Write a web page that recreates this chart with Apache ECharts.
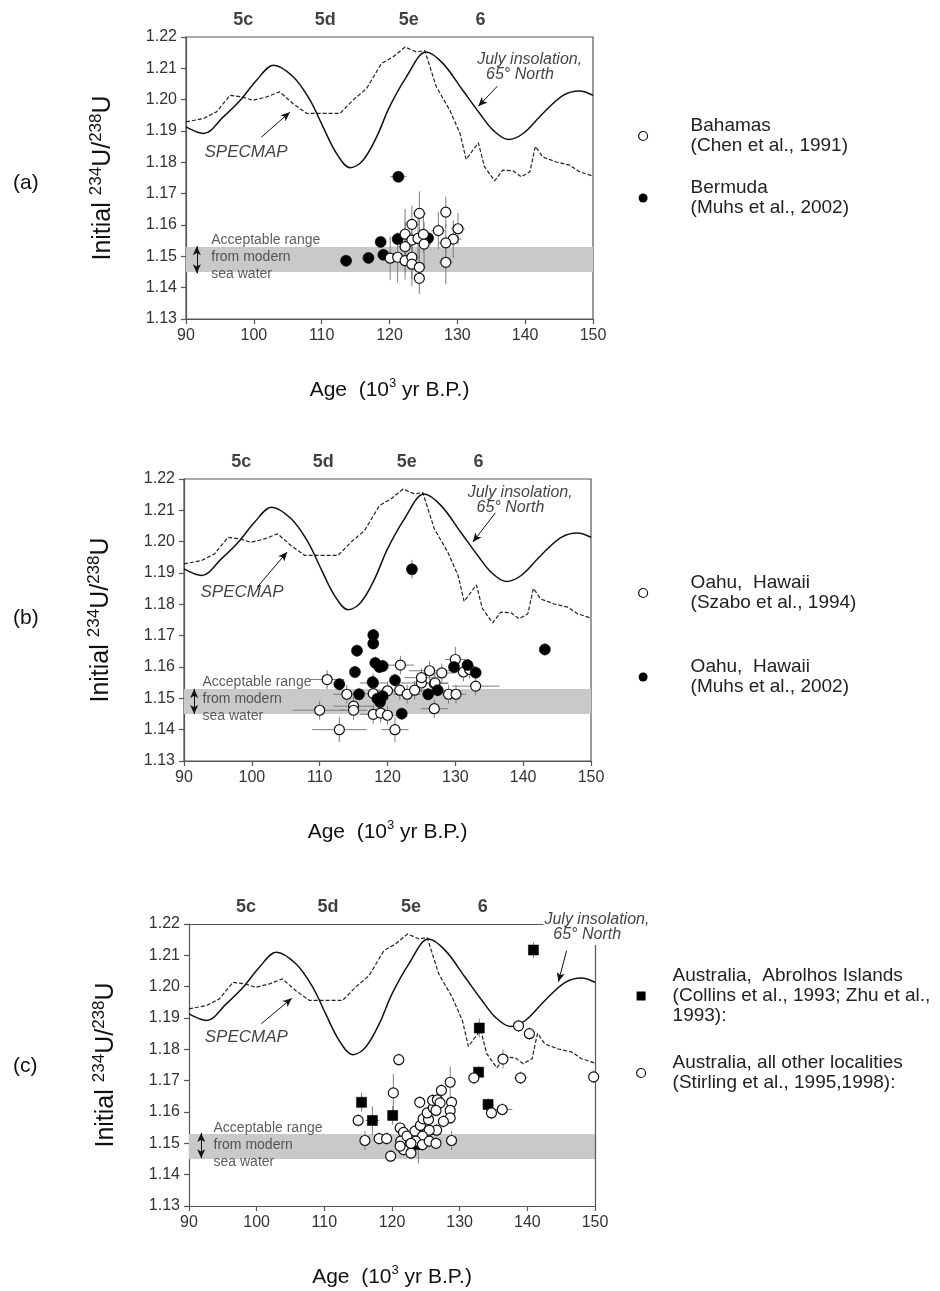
<!DOCTYPE html>
<html>
<head>
<meta charset="utf-8">
<title>Initial 234U/238U vs age</title>
<script src="https://cdn.jsdelivr.net/npm/echarts@6/dist/echarts.min.js"></script>
<style>
  html, body { margin: 0; padding: 0; background: #fff; }
  #chart { width: 940px; height: 1291px; }
</style>
</head>
<body>
<div id="chart"></div>
<script>
// axes
const xTicks = [90, 100, 110, 120, 130, 140, 150]
const yTicks = [1.13, 1.14, 1.15, 1.16, 1.17, 1.18, 1.19, 1.20, 1.21, 1.22]
const bandRange = [1.145, 1.153] // acceptable range from modern sea water

// marine isotope stages shown above each panel
const stageNames = ['5c', '5d', '5e', '6']
const stageAges = [98.5, 110.6, 122.9, 133.5]
const stageLevel = 1.2252

// July insolation, 65 N (solid) and SPECMAP (dashed), rescaled to the ratio axis
const insolationAge = [90, 92.6, 95.5, 98, 100.4, 102.9, 105.8, 108.3, 110.2, 112.2, 114.2, 116.1, 118.1, 120, 122.5, 125.4, 127.9, 130.8, 133.3, 135.3, 137.5, 139.7, 142.6, 145.6, 148, 150]
const insolationVal = [1.1913, 1.1892, 1.1945, 1.1998, 1.2062, 1.2110, 1.2073, 1.1998, 1.1913, 1.1828, 1.1783, 1.1807, 1.1881, 1.1977, 1.2073, 1.2152, 1.2115, 1.2030, 1.1956, 1.1902, 1.1873, 1.1892, 1.1956, 1.2014, 1.2028, 1.2014]
const specmapAge = [90, 92.6, 94.5, 96.5, 98.2, 99.9, 101.9, 103.8, 105.8, 107.8, 110.2, 112.7, 114.6, 116.6, 118.8, 120.5, 122.3, 124.0, 125.2, 126.9, 128.9, 130.4, 131.3, 132.1, 133.1, 134.0, 135.5, 136.7, 138.2, 139.4, 140.7, 141.5, 142.6, 144.6, 146.6, 148, 150]
const specmapVal = [1.1929, 1.1940, 1.1961, 1.2014, 1.2009, 1.1998, 1.2009, 1.2025, 1.1987, 1.1956, 1.1956, 1.1956, 1.1998, 1.2035, 1.2115, 1.2136, 1.2168, 1.2152, 1.2157, 1.2041, 1.1966, 1.1892, 1.1809, 1.1833, 1.1862, 1.1786, 1.1741, 1.1775, 1.1773, 1.1754, 1.1770, 1.1851, 1.1817, 1.1801, 1.1791, 1.1770, 1.1756]

// samples: [age ka, initial 234U/238U, age error, ratio error]
const bahamas = [
  [124.4, 1.1637, 1.0, 0.007], [128.3, 1.1641, 0.8, 0.005], [123.3, 1.1602, 1.0, 0.006],
  [122.3, 1.1571, 1.2, 0.008], [123.3, 1.1552, 1.0, 0.006], [124.2, 1.1557, 1.0, 0.007],
  [125.0, 1.1570, 1.2, 0.006], [125.1, 1.1539, 1.0, 0.007], [127.2, 1.1582, 1.0, 0.006],
  [130.1, 1.1588, 1.0, 0.005], [129.4, 1.1555, 1.2, 0.006], [128.3, 1.1543, 1.0, 0.006],
  [122.3, 1.1531, 1.0, 0.008], [120.1, 1.1494, 1.0, 0.007], [121.2, 1.1497, 1.2, 0.008],
  [122.3, 1.1486, 1.0, 0.006], [123.3, 1.1497, 1.0, 0.007], [123.3, 1.1475, 1.0, 0.007],
  [124.4, 1.1465, 1.0, 0.006], [124.4, 1.1430, 0.8, 0.005], [128.3, 1.1481, 1.0, 0.007]
]
const bermuda = [
  [113.6, 1.1486, 0.5, 0.0015], [116.9, 1.1495, 0.5, 0.0012], [118.7, 1.1546, 0.5, 0.0015],
  [119.1, 1.1505, 0.6, 0.0015], [121.2, 1.1555, 0.6, 0.0015], [125.7, 1.1558, 0.6, 0.0015],
  [121.3, 1.1754, 1.2, 0.0015]
]
const oahuSzabo = [
  [111.1, 1.1560, 2.5, 0.003], [110.0, 1.1462, 4.0, 0.003], [112.9, 1.1400, 4.0, 0.004],
  [114.0, 1.1513, 2.0, 0.003], [115.0, 1.1475, 3.0, 0.003], [115.0, 1.1462, 2.0, 0.003],
  [117.9, 1.1549, 2.0, 0.003], [117.9, 1.1515, 2.5, 0.003], [117.9, 1.1449, 2.0, 0.003],
  [119.0, 1.1453, 1.5, 0.003], [120.0, 1.1446, 1.5, 0.003], [120.0, 1.1524, 2.0, 0.003],
  [121.1, 1.1400, 2.0, 0.004], [121.9, 1.1606, 2.0, 0.003], [121.8, 1.1526, 2.0, 0.003],
  [122.9, 1.1513, 2.0, 0.003], [124.0, 1.1526, 3.0, 0.003], [125.0, 1.1549, 3.0, 0.003],
  [125.0, 1.1566, 2.5, 0.003], [126.2, 1.1588, 3.0, 0.003], [126.9, 1.1547, 2.0, 0.003],
  [126.9, 1.1467, 2.0, 0.003], [130.0, 1.1624, 1.5, 0.004], [128.0, 1.1581, 2.0, 0.003],
  [131.2, 1.1584, 1.5, 0.003], [132.1, 1.1592, 1.5, 0.003], [127.0, 1.1549, 2.0, 0.003],
  [129.0, 1.1513, 2.0, 0.003], [130.1, 1.1513, 1.5, 0.003], [133.0, 1.1539, 3.5, 0.003]
]
const oahuMuhs = [
  [117.9, 1.1702, 0.6, 0.002], [117.9, 1.1675, 0.6, 0.002], [115.5, 1.1652, 0.6, 0.002],
  [115.2, 1.1584, 0.6, 0.002], [118.2, 1.1613, 0.6, 0.002], [118.8, 1.1600, 0.6, 0.002],
  [119.3, 1.1603, 0.6, 0.002], [112.9, 1.1545, 0.6, 0.002], [115.8, 1.1513, 0.6, 0.002],
  [117.8, 1.1552, 0.6, 0.002], [118.5, 1.1499, 0.6, 0.002], [118.9, 1.1488, 0.6, 0.002],
  [119.3, 1.1507, 0.6, 0.002], [121.1, 1.1558, 0.6, 0.002], [122.1, 1.1451, 0.6, 0.002],
  [126.0, 1.1513, 0.6, 0.002], [127.4, 1.1526, 0.6, 0.002], [129.8, 1.1600, 0.6, 0.002],
  [131.8, 1.1606, 0.6, 0.002], [133.0, 1.1582, 0.6, 0.002], [143.2, 1.1656, 0.6, 0.002],
  [123.6, 1.1912, 0.6, 0.003]
]
const abrolhos = [
  [140.9, 1.2117, 0.5, 0.0025], [132.9, 1.1868, 0.5, 0.003], [132.8, 1.1727, 0.5, 0.002],
  [134.2, 1.1624, 0.8, 0.002], [115.5, 1.1631, 0.5, 0.003], [117.1, 1.1573, 1.0, 0.0045],
  [120.1, 1.1589, 0.5, 0.003], [123.9, 1.1496, 0.5, 0.006]
]
const australiaOther = [
  [138.7, 1.1875, 0.5, 0.002], [140.3, 1.1850, 0.5, 0.002], [136.4, 1.1769, 0.5, 0.003],
  [132.1, 1.1709, 0.5, 0.002], [139.0, 1.1709, 1.0, 0.002], [149.8, 1.1712, 0.5, 0.002],
  [134.7, 1.1597, 0.5, 0.002], [136.3, 1.1608, 1.5, 0.002], [121.0, 1.1767, 0.5, 0.002],
  [120.2, 1.1661, 0.8, 0.006], [115.0, 1.1573, 0.5, 0.002], [116.0, 1.1509, 0.5, 0.003],
  [118.1, 1.1515, 0.5, 0.002], [119.2, 1.1515, 0.5, 0.002], [119.8, 1.1459, 0.5, 0.002],
  [124.1, 1.1631, 0.5, 0.002], [121.2, 1.1549, 0.5, 0.002], [121.7, 1.1535, 0.5, 0.002],
  [121.3, 1.1507, 0.5, 0.002], [121.7, 1.1480, 0.5, 0.002], [122.8, 1.1469, 0.5, 0.002],
  [122.2, 1.1523, 0.5, 0.002], [123.4, 1.1539, 0.5, 0.002], [124.2, 1.1557, 0.5, 0.002],
  [124.6, 1.1578, 0.5, 0.002], [125.4, 1.1576, 0.5, 0.002], [125.2, 1.1597, 0.5, 0.002],
  [126.1, 1.1613, 0.5, 0.002], [126.0, 1.1637, 0.5, 0.002], [126.7, 1.1639, 0.5, 0.002],
  [127.1, 1.1629, 0.5, 0.002], [126.5, 1.1605, 0.5, 0.002], [127.3, 1.1669, 0.5, 0.002],
  [128.6, 1.1695, 0.5, 0.005], [128.8, 1.1631, 0.8, 0.002], [128.6, 1.1605, 0.5, 0.002],
  [128.6, 1.1581, 0.5, 0.002], [127.6, 1.1570, 0.5, 0.002], [126.6, 1.1542, 0.5, 0.002],
  [125.5, 1.1542, 0.5, 0.002], [124.5, 1.1523, 0.5, 0.002], [123.5, 1.1507, 0.5, 0.002],
  [124.5, 1.1496, 0.5, 0.002], [125.5, 1.1507, 0.5, 0.002], [126.5, 1.1500, 0.5, 0.002],
  [128.8, 1.1509, 0.5, 0.003], [121.2, 1.1491, 0.5, 0.002], [122.8, 1.1500, 0.5, 0.002]
]

// annotation anchors per panel (data coordinates)
const julyLabelAt = [[133.0, 1.2102], [131.9, 1.2131], [142.6, 1.2190]]
const julyArrow = [[[135.9, 1.2043], [133.1, 1.1979]], [[135.9, 1.2092], [132.6, 1.1999]], [[145.8, 1.2115], [144.6, 1.2016]]]
const specmapLabelAt = [[92.8, 1.1829], [92.5, 1.1836], [92.4, 1.1837]]
const specmapArrow = [[[101.1, 1.1880], [105.3, 1.1960]], [[100.8, 1.1855], [105.2, 1.1967]], [[100.7, 1.1882], [105.2, 1.1963]]]
const rangeLabelAt = [[93.8, 1.1495], [92.8, 1.1497], [93.7, 1.1493]]
const rangeArrowAt = [[91.6, 1.1532, 1.1446], [91.5, 1.1530, 1.1450], [91.8, 1.1533, 1.1452]]

const names = {
  bahamas: 'Bahamas\n(Chen et al., 1991)',
  bermuda: 'Bermuda\n(Muhs et al., 2002)',
  szabo: 'Oahu,  Hawaii\n(Szabo et al., 1994)',
  muhs: 'Oahu,  Hawaii\n(Muhs et al., 2002)',
  abrolhos: 'Australia,  Abrolhos Islands\n(Collins et al., 1993; Zhu et al.,\n1993):',
  other: 'Australia, all other localities\n(Stirling et al., 1995,1998):'
}

const ink = '#111'
const axisGray = '#555'
const zip = (a, b) => a.map((v, i) => [v, b[i]])

const grids = [
  { left: 186, top: 37, width: 407, height: 282, show: true, borderColor: axisGray, borderWidth: 1.2 },
  { left: 184, top: 479, width: 407, height: 282, show: true, borderColor: axisGray, borderWidth: 1.2 },
  { left: 189, top: 924, width: 406, height: 282 }
]

const xAxes = grids.map((g, i) => ({
  gridIndex: i,
  type: 'value',
  min: xTicks[0],
  max: xTicks[xTicks.length - 1],
  interval: xTicks[1] - xTicks[0],
  name: 'Age  (10{sup|3} yr B.P.)',
  nameLocation: 'middle',
  nameGap: 58,
  nameTextStyle: {
    fontSize: 21, color: ink, lineHeight: 26,
    rich: { sup: { fontSize: 13, verticalAlign: 'top', lineHeight: 13 } }
  },
  axisLine: { onZero: false, lineStyle: { color: axisGray, width: 1.2 } },
  axisTick: { inside: false, length: 5, lineStyle: { color: axisGray, width: 1.2 } },
  axisLabel: { fontSize: 16, color: '#333', margin: 9 },
  splitLine: { show: false }
}))

const yAxes = grids.map((g, i) => ({
  gridIndex: i,
  type: 'value',
  min: yTicks[0],
  max: yTicks[yTicks.length - 1],
  interval: 0.01,
  name: 'Initial {sup|234}U/{sup|238}U',
  nameLocation: 'middle',
  nameRotate: 90,
  nameGap: 67,
  nameTextStyle: {
    fontSize: 25, color: ink, lineHeight: 31,
    rich: { sup: { fontSize: 17, verticalAlign: 'top', lineHeight: 17 } }
  },
  axisLine: { onZero: false, lineStyle: { color: axisGray, width: 1.2 } },
  axisTick: { inside: false, length: 5, lineStyle: { color: axisGray, width: 1.2 } },
  axisLabel: { fontSize: 16, color: '#333', margin: 9, formatter: v => v.toFixed(2) },
  splitLine: { show: false }
}))

function errorBars(pts, idx) {
  return {
    type: 'custom',
    xAxisIndex: idx,
    yAxisIndex: idx,
    z: 3,
    silent: true,
    data: pts,
    encode: { x: 0, y: 1 },
    renderItem(params, api) {
      const x = api.value(0)
      const y = api.value(1)
      const ex = api.value(2)
      const ey = api.value(3)
      const l = api.coord([x - ex, y])
      const r = api.coord([x + ex, y])
      const b = api.coord([x, y - ey])
      const t = api.coord([x, y + ey])
      const style = { stroke: '#7d7d7d', lineWidth: 1 }
      return {
        type: 'group',
        children: [
          { type: 'line', shape: { x1: l[0], y1: l[1], x2: r[0], y2: r[1] }, style },
          { type: 'line', shape: { x1: b[0], y1: b[1], x2: t[0], y2: t[1] }, style }
        ]
      }
    }
  }
}

function samples(name, pts, idx, opt) {
  return {
    name,
    type: 'scatter',
    xAxisIndex: idx,
    yAxisIndex: idx,
    z: opt.z,
    symbol: opt.symbol,
    symbolSize: opt.size,
    data: pts.map(p => [p[0], p[1]]),
    itemStyle: opt.filled
      ? { color: '#000', borderColor: '#000', borderWidth: 0.6, opacity: 1 }
      : { color: '#fff', borderColor: ink, borderWidth: 1.2, opacity: 1 },
    emphasis: { disabled: true }
  }
}

function curves(idx) {
  return [
    {
      type: 'line',
      xAxisIndex: idx,
      yAxisIndex: idx,
      z: 2,
      data: zip(specmapAge, specmapVal),
      showSymbol: false,
      symbol: 'none',
      lineStyle: { color: '#222', width: 1.2, type: [4, 2] },
      silent: true,
      markArea: {
        silent: true,
        itemStyle: { color: '#c9c9c9' },
        data: [[{ yAxis: bandRange[0] }, { yAxis: bandRange[1] }]]
      }
    },
    {
      type: 'line',
      xAxisIndex: idx,
      yAxisIndex: idx,
      z: 2,
      data: zip(insolationAge, insolationVal),
      smooth: 0.35,
      showSymbol: false,
      symbol: 'none',
      lineStyle: { color: ink, width: 1.5 },
      silent: true
    }
  ]
}

function annotations(idx) {
  const lbl = (txt, at, style) => ({ value: at, name: txt, label: style })
  const italic = { fontStyle: 'italic', fontSize: 16, lineHeight: 15 }
  return {
    type: 'scatter',
    xAxisIndex: idx,
    yAxisIndex: idx,
    z: 6,
    clip: false,
    silent: true,
    symbolSize: 1,
    itemStyle: { color: 'transparent' },
    label: {
      show: true, formatter: '{b}', position: [0, 0], align: 'left', verticalAlign: 'middle', color: ink
    },
    data: [
      lbl('July insolation,\n  65° North', julyLabelAt[idx], italic),
      lbl('SPECMAP', specmapLabelAt[idx], { fontStyle: 'italic', fontSize: 17 }),
      lbl('Acceptable range\nfrom modern\nsea water', rangeLabelAt[idx], { fontSize: 14, lineHeight: 17, color: '#333' })
    ].concat(stageNames.map((s, k) => lbl(s, [stageAges[k], stageLevel], {
      fontSize: 18, fontWeight: 'bold', align: 'center', color: '#111'
    }))),
    markLine: {
      silent: true,
      animation: false,
      symbol: ['none', 'arrow'],
      symbolSize: [6, 9],
      label: { show: false },
      lineStyle: { color: ink, width: 1, type: 'solid' },
      data: [
        [{ coord: julyArrow[idx][0] }, { coord: julyArrow[idx][1] }],
        [{ coord: specmapArrow[idx][0] }, { coord: specmapArrow[idx][1] }],
        [
          { coord: [rangeArrowAt[idx][0], rangeArrowAt[idx][1]], symbol: 'arrow' },
          { coord: [rangeArrowAt[idx][0], rangeArrowAt[idx][2]], symbol: 'arrow' }
        ]
      ]
    }
  }
}

// panel (c) has an open frame: the label interrupts the top-right corner
const frameC = {
  type: 'line',
  xAxisIndex: 2,
  yAxisIndex: 2,
  data: [],
  silent: true,
  markLine: {
    silent: true,
    animation: false,
    symbol: 'none',
    label: { show: false },
    lineStyle: { color: axisGray, width: 1.2, type: 'solid' },
    data: [
      [{ coord: [xTicks[0], 1.22] }, { coord: [142.4, 1.22] }],
      [{ coord: [xTicks[xTicks.length - 1], 1.2133] }, { coord: [xTicks[xTicks.length - 1], yTicks[0]] }]
    ]
  }
}

const series = [
  ...curves(0),
  errorBars(bahamas.concat(bermuda), 0),
  samples(names.bermuda, bermuda, 0, { symbol: 'circle', size: 11, filled: true, z: 4 }),
  samples(names.bahamas, bahamas, 0, { symbol: 'circle', size: 10, filled: false, z: 5 }),
  annotations(0),

  ...curves(1),
  errorBars(oahuSzabo.concat(oahuMuhs), 1),
  samples(names.szabo, oahuSzabo, 1, { symbol: 'circle', size: 10, filled: false, z: 4 }),
  samples(names.muhs, oahuMuhs, 1, { symbol: 'circle', size: 11, filled: true, z: 5 }),
  annotations(1),

  ...curves(2),
  errorBars(abrolhos.concat(australiaOther), 2),
  samples(names.abrolhos, abrolhos, 2, { symbol: 'rect', size: 10, filled: true, z: 4 }),
  samples(names.other, australiaOther, 2, { symbol: 'circle', size: 10, filled: false, z: 5 }),
  annotations(2),
  frameC
]

const openIcon = { color: '#fff', borderColor: ink, borderWidth: 1.2 }
const solidIcon = { color: '#000', borderColor: '#000', borderWidth: 0 }
const squareIcon = 'path://M0,0L10,0L10,10L0,10Z'
const legendText = gap => ({ fontSize: 19, lineHeight: 20, color: '#222', padding: [0, 0, 0, gap] })

const legends = [
  {
    data: [
      { name: names.bahamas, icon: 'circle', itemStyle: openIcon },
      { name: names.bermuda, icon: 'circle', itemStyle: solidIcon }
    ],
    left: 638, top: 116, itemGap: 22, textStyle: legendText(38)
  },
  {
    data: [
      { name: names.szabo, icon: 'circle', itemStyle: openIcon },
      { name: names.muhs, icon: 'circle', itemStyle: solidIcon }
    ],
    left: 638, top: 573, itemGap: 44, textStyle: legendText(38)
  },
  {
    data: [
      { name: names.abrolhos, icon: squareIcon, itemStyle: solidIcon },
      { name: names.other, icon: 'circle', itemStyle: openIcon }
    ],
    left: 636, top: 966, itemGap: 27, textStyle: legendText(22)
  }
].map(l => Object.assign({
  orient: 'vertical',
  itemWidth: 9,
  itemHeight: 9,
  padding: 0,
  selectedMode: false
}, l))

const panelTitles = [['(a)', 173], ['(b)', 608], ['(c)', 1056]].map(p => ({
  text: p[0],
  left: 13,
  top: p[1],
  padding: 0,
  textStyle: { fontSize: 21, fontWeight: 'normal', color: ink }
}))

const myChart = echarts.init(document.getElementById('chart'), null, { renderer: 'canvas' })
myChart.setOption({
  animation: false,
  backgroundColor: '#fff',
  textStyle: { fontFamily: 'Liberation Sans, Arial, Helvetica, sans-serif' },
  title: panelTitles,
  legend: legends,
  grid: grids,
  xAxis: xAxes,
  yAxis: yAxes,
  series
})
</script>
</body>
</html>
